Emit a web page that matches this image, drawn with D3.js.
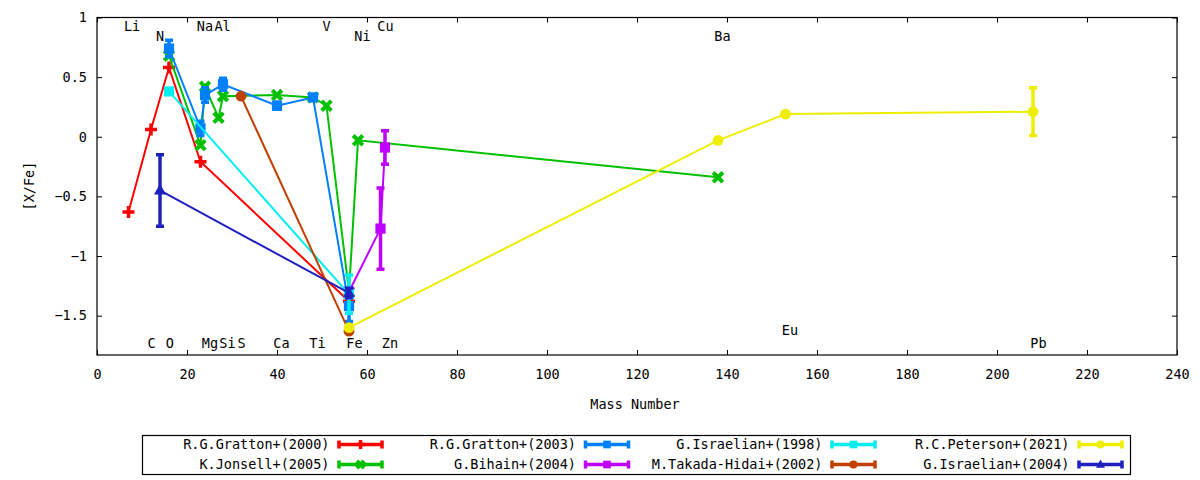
<!DOCTYPE html>
<meta charset="utf-8">
<head>
    <title>[X/Fe] vs Mass Number</title>
    <script type="text/javascript" src="https://cdn.jsdelivr.net/npm/d3@7/dist/d3.min.js"></script>
    <style>
        html, body { margin: 0; padding: 0; background: white; }
        svg text { font-family: "DejaVu Sans Mono", monospace; font-size: 13.5px; fill: black; }
    </style>
</head>
<body>
<svg id="chart" width="1200" height="480"></svg>
<script>
    // series, plotted in gnuplot order (lt 1..8)
    var seriesNames = ["R.G.Gratton+(2000)", "K.Jonsell+(2005)", "R.G.Gratton+(2003)", "G.Bihain+(2004)",
                       "G.Israelian+(1998)", "M.Takada-Hidai+(2002)", "R.C.Peterson+(2021)", "G.Israelian+(2004)"];
    var seriesColors = ["#ff0000", "#00c000", "#0080ff", "#c000ff", "#00eeee", "#c04000", "#eeee00", "#2020c0"];
    var seriesMarks = ["plus", "cross", "square", "square", "square", "circle", "circle", "triangle"];

    // mass number, [X/Fe], error
    var gratton2000Mass = [7, 12, 16, 23, 56];
    var gratton2000Val  = [-0.63, 0.06, 0.58, -0.21, -1.38];
    var gratton2000Err  = [0, 0, 0, 0, 0.04];

    var jonsellMass = [16, 23, 24, 27, 28, 40, 48, 51, 56, 58, 138];
    var jonsellVal  = [0.68, -0.07, 0.42, 0.16, 0.34, 0.35, 0.33, 0.26, -1.3, -0.03, -0.34];
    var jonsellErr  = [0, 0, 0, 0, 0, 0, 0, 0, 0, 0, 0];

    var gratton2003Mass = [16, 23, 24, 28, 40, 48, 56];
    var gratton2003Val  = [0.74, 0.07, 0.35, 0.44, 0.26, 0.33, -1.42];
    var gratton2003Err  = [0.07, 0.06, 0.06, 0.05, 0.03, 0, 0.13];

    var bihainMass = [56, 63, 64];
    var bihainVal  = [-1.3, -0.77, -0.09];
    var bihainErr  = [0, 0.34, 0.14];

    var israelian1998Mass = [16, 56];
    var israelian1998Val  = [0.38, -1.32];
    var israelian1998Err  = [0, 0.16];

    var takadaMass = [32, 56];
    var takadaVal  = [0.34, -1.63];
    var takadaErr  = [0, 0];

    var petersonMass = [56, 138, 153, 208];
    var petersonVal  = [-1.6, -0.03, 0.19, 0.21];
    var petersonErr  = [0, 0, 0, 0.2];

    var israelian2004Mass = [14, 56];
    var israelian2004Val  = [-0.45, -1.31];
    var israelian2004Err  = [0.3, 0.04];

    // element labels (data coordinates)
    var elemNames = ["Li", "N", "Na", "Al", "V", "Ni", "Cu", "Ba",
                     "C", "O", "Mg", "Si", "S", "Ca", "Ti", "Fe", "Zn", "Eu", "Pb"];
    var elemX = [7.8, 14, 24, 27.9, 51, 59, 64.1, 139,
                 12.1, 16.2, 25.1, 29, 32.1, 41, 49, 57.2, 65.1, 154, 209.2];
    var elemY = [0.93, 0.84, 0.93, 0.93, 0.93, 0.84, 0.93, 0.84,
                 -1.73, -1.73, -1.73, -1.73, -1.73, -1.73, -1.73, -1.73, -1.73, -1.62, -1.73];

    var xTicks = [0, 20, 40, 60, 80, 100, 120, 140, 160, 180, 200, 220, 240];
    var yTicks = [1, 0.5, 0, -0.5, -1, -1.5];

    var allMass = [gratton2000Mass, jonsellMass, gratton2003Mass, bihainMass, israelian1998Mass, takadaMass, petersonMass, israelian2004Mass];
    var allVal  = [gratton2000Val, jonsellVal, gratton2003Val, bihainVal, israelian1998Val, takadaVal, petersonVal, israelian2004Val];
    var allErr  = [gratton2000Err, jonsellErr, gratton2003Err, bihainErr, israelian1998Err, takadaErr, petersonErr, israelian2004Err];

    var plotLeft = 97, plotRight = 1177, plotTop = 17.5, plotBottom = 355;

    var svg = d3.select("#chart");

    var x = d3.scaleLinear().domain([0, 240]).range([plotLeft, plotRight]);
    var y = d3.scaleLinear().domain([-1.83, 1]).range([plotBottom, plotTop]);

    // axes with inward ticks, mirrored
    var tickLen = 5;
    svg.append("g").attr("transform", "translate(0," + plotBottom + ")")
        .call(d3.axisBottom(x).tickValues(xTicks).tickSize(-tickLen).tickPadding(14).tickFormat(d3.format("d")))
        .call(g => g.select(".domain").remove());
    svg.append("g").attr("transform", "translate(0," + plotTop + ")")
        .call(d3.axisTop(x).tickValues(xTicks).tickSize(-tickLen).tickFormat(""))
        .call(g => g.select(".domain").remove());
    svg.append("g").attr("transform", "translate(" + plotLeft + ",0)")
        .call(d3.axisLeft(y).tickValues(yTicks).tickSize(-tickLen).tickPadding(10).tickFormat(d => d3.format("")(d)))
        .call(g => g.select(".domain").remove());
    svg.append("g").attr("transform", "translate(" + plotRight + ",0)")
        .call(d3.axisRight(y).tickValues(yTicks).tickSize(-tickLen).tickFormat(""))
        .call(g => g.select(".domain").remove());

    svg.selectAll(".tick line").attr("stroke", "black").attr("stroke-width", 1);
    svg.selectAll(".tick text").style("font-family", "DejaVu Sans Mono").style("font-size", "13.5px").attr("fill", "black");

    svg.append("rect")
        .attr("x", plotLeft).attr("y", plotTop)
        .attr("width", plotRight - plotLeft).attr("height", plotBottom - plotTop)
        .attr("fill", "none").attr("stroke", "black").attr("stroke-width", 1.2);

    // axis titles
    svg.append("text").attr("x", 635).attr("y", 409).attr("text-anchor", "middle").text("Mass Number");
    svg.append("text").attr("transform", "translate(34,186) rotate(-90)")
        .attr("text-anchor", "middle").text("[X/Fe]");

    // element labels
    svg.append("g").selectAll("text").data(elemNames).enter().append("text")
        .attr("x", (d, i) => x(elemX[i]))
        .attr("y", (d, i) => y(elemY[i]))
        .attr("dy", "0.35em")
        .attr("text-anchor", "middle")
        .text(d => d);

    function drawMark(g, kind, cx, cy, color, s) {
        if (kind == "plus") {
            g.append("path").attr("d", "M" + (cx - s) + "," + cy + "H" + (cx + s) + "M" + cx + "," + (cy - s) + "V" + (cy + s))
                .attr("stroke", color).attr("stroke-width", 3.5).attr("fill", "none");
        } else if (kind == "cross") {
            var k = s * 0.8;
            g.append("path").attr("d", "M" + (cx - k) + "," + (cy - k) + "L" + (cx + k) + "," + (cy + k) + "M" + (cx - k) + "," + (cy + k) + "L" + (cx + k) + "," + (cy - k))
                .attr("stroke", color).attr("stroke-width", 4).attr("fill", "none");
        } else if (kind == "square") {
            g.append("rect").attr("x", cx - s * 0.85).attr("y", cy - s * 0.85)
                .attr("width", s * 1.7).attr("height", s * 1.7).attr("fill", color);
        } else if (kind == "circle") {
            g.append("circle").attr("cx", cx).attr("cy", cy).attr("r", s * 0.9).attr("fill", color);
        } else if (kind == "triangle") {
            g.append("path").attr("d", "M" + cx + "," + (cy - s * 1.1) + "L" + (cx + s) + "," + (cy + s * 0.7) + "L" + (cx - s) + "," + (cy + s * 0.7) + "Z")
                .attr("fill", color);
        }
    }

    var line = d3.line().x(d => x(d[0])).y(d => y(d[1]));
    var plotArea = svg.append("g");

    seriesNames.forEach(function(name, si) {
        var color = seriesColors[si];
        var pts = allMass[si].map((m, i) => [m, allVal[si][i], allErr[si][i]]);
        var g = plotArea.append("g");
        g.append("path").datum(pts).attr("d", line)
            .attr("fill", "none").attr("stroke", color).attr("stroke-width", 2);
        pts.forEach(function(p) {
            if (p[2] > 0) {
                var cx = x(p[0]), y1 = y(p[1] + p[2]), y2 = y(p[1] - p[2]);
                g.append("path")
                    .attr("d", "M" + cx + "," + y1 + "V" + y2 + "M" + (cx - 4) + "," + y1 + "H" + (cx + 4) + "M" + (cx - 4) + "," + y2 + "H" + (cx + 4))
                    .attr("stroke", color).attr("stroke-width", 3.5).attr("fill", "none");
            }
            drawMark(g, seriesMarks[si], x(p[0]), y(p[1]), color, 6);
        });
    });

    // legend
    var legend = svg.append("g");
    legend.append("rect").attr("x", 142.5).attr("y", 435.5).attr("width", 988).attr("height", 39)
        .attr("fill", "white").attr("stroke", "black").attr("stroke-width", 1.2);
    var colTextEnd = [329.5, 576, 822.5, 1069.5];
    var rowY = [444.5, 464.5];
    seriesNames.forEach(function(name, si) {
        var col = Math.floor(si / 2), row = si % 2;
        var ty = rowY[row], tx = colTextEnd[col];
        var color = seriesColors[si];
        legend.append("text").attr("x", tx).attr("y", ty).attr("dy", "0.35em")
            .attr("text-anchor", "end").text(name);
        var x1 = tx + 9.5, x2 = tx + 52.5;
        legend.append("path")
            .attr("d", "M" + x1 + "," + ty + "H" + x2 + "M" + x1 + "," + (ty - 4) + "V" + (ty + 4) + "M" + x2 + "," + (ty - 4) + "V" + (ty + 4))
            .attr("stroke", color).attr("stroke-width", 3.5).attr("fill", "none");
        drawMark(legend, seriesMarks[si], (x1 + x2) / 2, ty, color, 4.5);
    });
</script>
</body>
